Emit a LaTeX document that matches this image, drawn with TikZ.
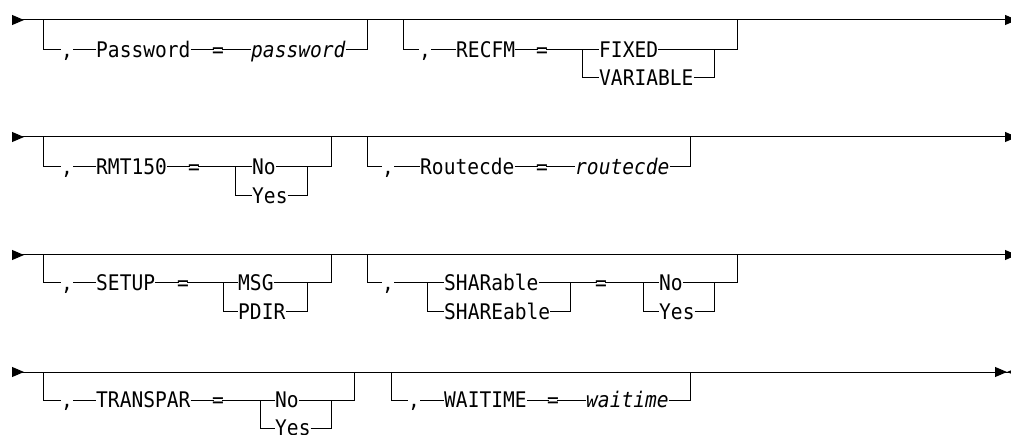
\documentclass[tikz,border=0pt]{standalone}
\usepackage{fontspec}
\newfontfamily\railfont[FakeStretch=0.91]{DejaVu Sans Mono}
\usetikzlibrary{arrows.meta}
\newcommand{\railtext}{\railfont\fontsize{21.5}{22}\selectfont}
\tikzset{
  railkw/.style={
    font=\railtext, inner sep=0pt, text height=15.7pt, text depth=0pt,
    anchor=west
  },
  railvar/.style={railkw, font=\railtext\itshape},
  raileq/.style={railkw, inner xsep=-2pt},
  rail/.style={line width=1pt},
  mainrail/.style={rail,
    arrows={Triangle[reversed,length=12pt,width=10pt]-Triangle[length=12pt,width=10pt]}},
  lastrail/.style={rail,
    arrows={Triangle[reversed,length=12pt,width=10pt]-Triangle[length=12pt,width=10pt] Triangle[reversed,length=12pt,width=10pt]}}
}

\begin{document}
\begin{tikzpicture}[x=1pt, y=-1pt]
  \clip (0,0) rectangle (1011,435);

  % Main lines
  \foreach \r/\y in {1/20,2/137,3/255} {
    \coordinate (s\r) at (12,\y);
    \coordinate (e\r) at (1017,\y);
    \draw[mainrail] (s\r) -- (e\r);
  }
  \coordinate (s4) at (12,372);
  \coordinate (e4) at (1019,372);
  \draw[lastrail] (s4) -- (e4);

  % Row 1: Password
  \coordinate (pwl) at (43,20);
  \coordinate (pwr) at (367,20);
  \node[railkw]  (pwc) at (61,50)  {,};
  \node[railkw]  (pwk) at (96,50)  {Password};
  \node[raileq]  (pwe) at (214,50) {=};
  \node[railvar] (pwv) at (251,50) {password};
  \draw[rail] (pwl) |- (pwc);
  \foreach \a/\b in {pwc/pwk,pwk/pwe,pwe/pwv}
    \draw[rail] (\a) -- (\b);
  \draw[rail] (pwv) -| (pwr);

  % Row 1: RECFM
  \coordinate (rfl) at (403,20);
  \coordinate (rfr) at (737,20);
  \coordinate (rfa) at (582,50);
  \coordinate (rfb) at (714,50);
  \node[railkw] (rfc) at (419,50) {,};
  \node[railkw] (rfk) at (456,50) {RECFM};
  \node[raileq] (rfe) at (538,50) {=};
  \node[railkw] (rf1) at (599,50) {FIXED};
  \node[railkw] (rf2) at (599,78) {VARIABLE};
  \draw[rail] (rfl) |- (rfc);
  \foreach \a/\b in {rfc/rfk,rfk/rfe,rfe/rf1,rf1/rfb}
    \draw[rail] (\a) -- (\b);
  \draw[rail] (rfa) |- (rf2);
  \draw[rail] (rf2) -| (rfb);
  \draw[rail] (rfb) -| (rfr);

  % Row 2: RMT150
  \coordinate (rml) at (43,137);
  \coordinate (rmr) at (331,137);
  \coordinate (rma) at (235,167);
  \coordinate (rmb) at (307,167);
  \node[railkw] (rmc) at (61,167)  {,};
  \node[railkw] (rmk) at (96,167)  {RMT150};
  \node[raileq] (rme) at (190,167) {=};
  \node[railkw] (rm1) at (252,167) {No};
  \node[railkw] (rm2) at (252,196) {Yes};
  \draw[rail] (rml) |- (rmc);
  \foreach \a/\b in {rmc/rmk,rmk/rme,rme/rm1,rm1/rmb}
    \draw[rail] (\a) -- (\b);
  \draw[rail] (rma) |- (rm2);
  \draw[rail] (rm2) -| (rmb);
  \draw[rail] (rmb) -| (rmr);

  % Row 2: Routecde
  \coordinate (rtl) at (367,137);
  \coordinate (rtr) at (690,137);
  \node[railkw]  (rtc) at (382,167) {,};
  \node[railkw]  (rtk) at (420,167) {Routecde};
  \node[raileq]  (rte) at (538,167) {=};
  \node[railvar] (rtv) at (575,167) {routecde};
  \draw[rail] (rtl) |- (rtc);
  \foreach \a/\b in {rtc/rtk,rtk/rte,rte/rtv}
    \draw[rail] (\a) -- (\b);
  \draw[rail] (rtv) -| (rtr);

  % Row 3: SETUP
  \coordinate (sul) at (43,255);
  \coordinate (sur) at (331,255);
  \coordinate (sua) at (223,283);
  \coordinate (sub) at (307,283);
  \node[railkw] (suc) at (61,283)  {,};
  \node[railkw] (suk) at (96,283)  {SETUP};
  \node[raileq] (sue) at (179,283) {=};
  \node[railkw] (su1) at (238,283) {MSG};
  \node[railkw] (su2) at (238,312) {PDIR};
  \draw[rail] (sul) |- (suc);
  \foreach \a/\b in {suc/suk,suk/sue,sue/su1,su1/sub}
    \draw[rail] (\a) -- (\b);
  \draw[rail] (sua) |- (su2);
  \draw[rail] (su2) -| (sub);
  \draw[rail] (sub) -| (sur);

  % Row 3: SHARable
  \coordinate (shl) at (367,255);
  \coordinate (shr) at (737,255);
  \coordinate (sha) at (427,283);
  \coordinate (shb) at (570,283);
  \coordinate (sna) at (643,283);
  \coordinate (snb) at (714,283);
  \node[railkw] (shc) at (382,283) {,};
  \node[railkw] (sh1) at (444,283) {SHARable};
  \node[railkw] (sh2) at (444,312) {SHAREable};
  \node[raileq] (she) at (597,283) {=};
  \node[railkw] (sn1) at (659,283) {No};
  \node[railkw] (sn2) at (659,312) {Yes};
  \draw[rail] (shl) |- (shc);
  \foreach \a/\b in {shc/sh1,sh1/she,she/sn1,sn1/snb}
    \draw[rail] (\a) -- (\b);
  \draw[rail] (sha) |- (sh2);
  \draw[rail] (sh2) -| (shb);
  \draw[rail] (sna) |- (sn2);
  \draw[rail] (sn2) -| (snb);
  \draw[rail] (snb) -| (shr);

  % Row 4: TRANSPAR
  \coordinate (trl) at (43,372);
  \coordinate (trr) at (354,372);
  \coordinate (tra) at (260,400);
  \coordinate (trb) at (331,400);
  \node[railkw] (trc) at (61,400)  {,};
  \node[railkw] (trk) at (96,400)  {TRANSPAR};
  \node[raileq] (tre) at (214,400) {=};
  \node[railkw] (tr1) at (275,400) {No};
  \node[railkw] (tr2) at (275,428) {Yes};
  \draw[rail] (trl) |- (trc);
  \foreach \a/\b in {trc/trk,trk/tre,tre/tr1,tr1/trb}
    \draw[rail] (\a) -- (\b);
  \draw[rail] (tra) |- (tr2);
  \draw[rail] (tr2) -| (trb);
  \draw[rail] (trb) -| (trr);

  % Row 4: WAITIME
  \coordinate (wtl) at (391,372);
  \coordinate (wtr) at (690,372);
  \node[railkw]  (wtc) at (408,400) {,};
  \node[railkw]  (wtk) at (444,400) {WAITIME};
  \node[raileq]  (wte) at (549,400) {=};
  \node[railvar] (wtv) at (586,400) {waitime};
  \draw[rail] (wtl) |- (wtc);
  \foreach \a/\b in {wtc/wtk,wtk/wte,wte/wtv}
    \draw[rail] (\a) -- (\b);
  \draw[rail] (wtv) -| (wtr);
\end{tikzpicture}
\end{document}
